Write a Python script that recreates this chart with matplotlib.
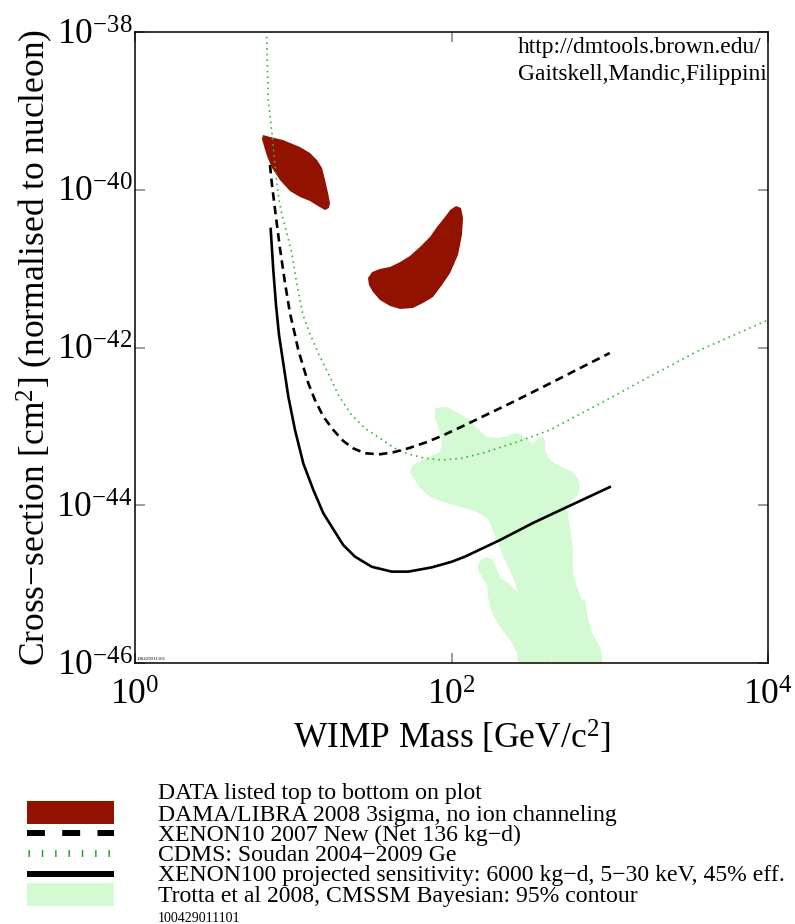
import numpy as np
import matplotlib.pyplot as plt
from matplotlib.lines import Line2D
from matplotlib.patches import Rectangle
from matplotlib.ticker import NullLocator

plt.rcParams['font.family'] = ['Liberation Serif', 'DejaVu Serif']
plt.rcParams['mathtext.fontset'] = 'custom'
plt.rcParams['mathtext.rm'] = 'Liberation Serif'
plt.rcParams['mathtext.it'] = 'Liberation Serif:italic'
plt.rcParams['mathtext.bf'] = 'Liberation Serif:bold'

# -----------------------------------------------------------------------------
# limit curves and regions: WIMP mass in GeV/c^2, cross-section in cm^2
# -----------------------------------------------------------------------------
# DAMA/LIBRA 2008 3sigma, low mass island
dama_lo_mass = [6.44, 7.13, 8.61, 11.04, 12.76, 14.13, 15.2, 15.89, 16.6, 17.06,
                16.8, 15.89, 14.32, 12.76, 11.04, 9.53, 8.24, 7.34, 6.82, 6.53, 6.34]
dama_lo_sigma = [4.94e-40, 4.67e-40, 4.27e-40, 3.48e-40, 2.92e-40, 2.38e-40, 1.89e-40,
                 1.33e-40, 9.1e-41, 6.79e-41, 5.87e-41, 5.53e-41, 6.22e-41, 7.2e-41,
                 8.09e-41, 9.64e-41, 1.33e-40, 1.89e-40, 2.68e-40, 3.59e-40, 4.40e-40]

# DAMA/LIBRA 2008 3sigma, high mass island
dama_hi_mass = [29.65, 31.5, 35.3, 40.9, 47.3, 54.7, 63.2, 73.1, 80.9, 91.0, 98.0,
                106.7, 114.8, 118.3, 116.4, 109.9, 98.0, 87.1, 76.4, 66.1, 57.1,
                47.3, 40.9, 35.3, 31.9, 30.1]
dama_hi_sigma = [7.6e-42, 9.06e-42, 9.89e-42, 1.05e-41, 1.21e-41, 1.45e-41, 1.88e-41,
                 2.52e-41, 3.37e-41, 4.52e-41, 5.53e-41, 6.22e-41, 5.87e-41, 4.39e-41,
                 2.67e-41, 1.49e-41, 8.81e-42, 6.2e-42, 4.37e-42, 3.67e-42, 3.17e-42,
                 3.08e-42, 3.36e-42, 4.0e-42, 5.06e-42, 6.2e-42]

# XENON10 2007 (Net 136 kg-d)
xe10_mass = [7.13, 7.34, 7.61, 7.89, 8.24, 8.87, 9.53, 10.26, 10.76, 11.57, 12.45,
             13.71, 15.49, 17.91, 20.70, 23.93, 28.38, 35.32, 42.85, 53.33, 68.08,
             86.70, 115.9, 244.9, 437.5, 1000.0]
xe10_sigma = [2.06e-40, 1.15e-40, 6.41e-41, 3.57e-41, 1.82e-41, 6.58e-42, 2.74e-42,
              1.44e-42, 9.29e-43, 5.71e-43, 3.52e-43, 2.16e-43, 1.33e-43, 9.0e-44,
              6.53e-44, 5.27e-44, 4.56e-44, 4.43e-44, 4.69e-44, 5.27e-44, 6.21e-44,
              7.55e-44, 9.91e-44, 2.04e-43, 3.66e-43, 8.51e-43]

# CDMS Soudan 2004-2009 Ge
cdms_mass = [6.79, 6.95, 7.20, 7.42, 7.61, 7.84, 8.13, 8.49, 8.87, 9.27, 9.78, 10.26,
             10.71, 11.53, 12.76, 14.39, 16.65, 19.27, 23.39, 28.38, 35.32, 43.95,
             53.33, 68.08, 86.70, 115.9, 158.0, 259.4, 418.8, 905.7, 1718.0, 3715.0,
             10000.0]
cdms_sigma = [8.72e-39, 1.37e-39, 7.22e-40, 4.27e-40, 2.38e-40, 1.33e-40, 7.41e-41,
              4.79e-41, 3.47e-41, 2.45e-41, 1.58e-41, 8.81e-42, 5.36e-42, 2.58e-42,
              1.48e-42, 8.43e-43, 4.71e-43, 2.50e-43, 1.39e-43, 9.46e-44, 7.06e-44,
              5.27e-44, 4.47e-44, 3.94e-44, 3.75e-44, 3.94e-44, 4.59e-44, 6.34e-44,
              9.0e-44, 2.04e-43, 4.10e-43, 9.29e-43, 2.23e-42]

# XENON100 projected sensitivity
xe100_mass = [7.20, 7.48, 7.78, 8.13, 8.65, 9.31, 10.26, 11.57, 13.40, 15.49, 17.50,
              20.70, 24.55, 31.33, 41.88, 53.33, 74.99, 100.2, 121.6, 202.5, 327.3,
              537.0, 1000.0]
xe100_sigma = [3.18e-41, 9.6e-42, 3.46e-42, 1.44e-42, 6.31e-43, 2.38e-43, 9.0e-44,
               3.40e-44, 1.56e-44, 7.91e-45, 5.35e-45, 3.13e-45, 2.23e-45, 1.66e-45,
               1.44e-45, 1.44e-45, 1.63e-45, 1.92e-45, 2.23e-45, 3.62e-45, 5.96e-45,
               9.5e-45, 1.70e-44]

# Trotta et al 2008, CMSSM Bayesian 95% contour
trotta_mass = [78.7, 93.7, 109.9, 125.3, 134.8, 144.9, 167.5, 202.5, 251.8, 279.3,
               304.1, 327.3, 346.7, 373.3, 389.9, 389.9, 407.4, 437.5, 507.0, 586.1,
               629.5, 648.6, 629.5, 576.8, 537.0, 561.0, 586.1, 586.1, 620.9, 668.3,
               698.2, 717.8, 772.7, 867.0, 905.7, 437.5, 431.5, 418.8, 263.0, 259.4,
               234.4, 202.5, 180.3, 170.2, 167.5, 156.0, 144.9, 151.4, 167.5, 182.9,
               194.0, 202.5, 224.4, 244.9, 263.0, 251.8, 227.5, 208.4, 194.0, 180.3,
               167.5, 144.9, 113.2, 88.3, 73.1, 63.2, 58.7, 54.7, 57.1, 70.0, 84.6,
               87.1, 84.6, 78.7]
trotta_sigma = [1.71e-43, 1.76e-43, 1.48e-43, 1.28e-43, 1.14e-43, 9.53e-44, 7.33e-44,
                7.13e-44, 8.24e-44, 7.78e-44, 6.71e-44, 6.15e-44, 6.71e-44, 7.55e-44,
                6.71e-44, 5.01e-44, 4.09e-44, 3.53e-44, 2.97e-44, 2.64e-44, 2.21e-44,
                1.70e-44, 1.35e-44, 1.17e-44, 8.7e-45, 5.30e-45, 2.71e-45, 1.38e-45,
                9.19e-46, 6.29e-46, 6.29e-46, 4.31e-46, 2.40e-46, 1.60e-46, 1.0e-46,
                1.0e-46, 1.09e-46, 1.0e-46, 1.0e-46, 1.34e-46, 1.96e-46, 2.86e-46,
                4.31e-46, 6.87e-46, 9.74e-46, 1.23e-45, 1.60e-45, 2.02e-45, 2.21e-45,
                2.02e-45, 1.51e-45, 1.23e-45, 1.06e-45, 8.93e-46, 7.94e-46, 1.06e-45,
                1.65e-45, 2.48e-45, 3.62e-45, 5.15e-45, 6.89e-45, 8.2e-45, 9.5e-45,
                1.10e-44, 1.27e-44, 1.66e-44, 2.09e-44, 2.64e-44, 3.24e-44, 3.97e-44,
                4.73e-44, 6.15e-44, 8.24e-44, 1.28e-43]

xticks = [1, 1e2, 1e4]
xtick_labels = [r'$10^{0}$', r'$10^{2}$', r'$10^{4}$']
yticks = [1e-46, 1e-44, 1e-42, 1e-40, 1e-38]
ytick_labels = [r'$10^{-46}$', r'$10^{-44}$', r'$10^{-42}$', r'$10^{-40}$', r'$10^{-38}$']

legend_labels = ['DAMA/LIBRA 2008 3sigma, no ion channeling',
                 'XENON10 2007 New (Net 136 kg\u2212d)',
                 'CDMS: Soudan 2004\u22122009 Ge',
                 'XENON100 projected sensitivity: 6000 kg\u2212d, 5\u221230 keV, 45% eff.',
                 'Trotta et al 2008, CMSSM Bayesian: 95% contour']

dama_col = '#921200'
trotta_col = '#d3fad3'
cdms_col = '#3cb43c'

# -----------------------------------------------------------------------------
W, H = 795, 924
fig = plt.figure(figsize=(W / 100, H / 100), dpi=100)
ax = fig.add_axes([135 / W, 1 - 663 / H, 633 / W, 631 / H])

ax.fill(trotta_mass, trotta_sigma, color=trotta_col, lw=0, zorder=1)
ax.fill(dama_lo_mass, dama_lo_sigma, color=dama_col, lw=0, zorder=2)
ax.fill(dama_hi_mass, dama_hi_sigma, color=dama_col, lw=0, zorder=2)
ax.plot(cdms_mass, cdms_sigma, color=cdms_col, lw=1.2, dashes=(1.0, 2.4), zorder=3)
ax.plot(xe10_mass, xe10_sigma, color='k', lw=1.9, dashes=(3.2, 2.0), zorder=4)
ax.plot(xe100_mass, xe100_sigma, color='k', lw=1.9, zorder=5)

ax.set_xscale('log')
ax.set_yscale('log')
ax.set_xlim(1, 1e4)
ax.set_ylim(1e-46, 1e-38)
ax.set_xticks(xticks, xtick_labels)
ax.set_yticks(yticks, ytick_labels)
ax.xaxis.set_minor_locator(NullLocator())
ax.yaxis.set_minor_locator(NullLocator())
ax.tick_params(direction='in', length=7, width=1.1, color='grey',
               top=True, right=True, labelsize=25.5)
ax.tick_params(axis='y', pad=2)
ax.tick_params(axis='x', pad=12)
for s in ax.spines.values():
    s.set_linewidth(1.1)

ax.set_xlabel('WIMP Mass [GeV/c$^{2}$]', fontsize=25.5)
ax.set_ylabel('Cross\u2212section [cm$^{2}$] (normalised to nucleon)', fontsize=25.5)
ax.xaxis.set_label_coords(0.5, -0.088)
ax.yaxis.set_label_coords(-0.127, 0.5)

ax.text(518 / W, 1 - 53 / H, 'http://dmtools.brown.edu/', transform=fig.transFigure,
        fontsize=16.9, va='baseline', clip_on=True)
ax.text(518 / W, 1 - 80 / H, 'Gaitskell,Mandic,Filippini', transform=fig.transFigure,
        fontsize=16.9, va='baseline', clip_on=True)
ax.text(0.003, 0.003, '100429011101', transform=ax.transAxes, fontsize=3.5,
        va='bottom', ha='left')

# ---------------- legend block under the plot (pixel coordinates) -------------
lax = fig.add_axes([0, 0, 1, 1])
lax.set_xlim(0, W)
lax.set_ylim(H, 0)
lax.axis('off')

lax.add_patch(Rectangle((27, 800.5), 87, 23, color=dama_col, lw=0))
lax.add_line(Line2D([27, 114], [832.5, 832.5], color='k', lw=4.3,
                    dashes=(3.0, 2.9), solid_capstyle='butt', dash_capstyle='butt'))
lax.add_line(Line2D([27.8, 114], [852.5, 852.5], color='#1a9a1a', lw=5.0,
                    dashes=(0.2, 1.72), dash_capstyle='butt'))
lax.add_line(Line2D([27, 114], [873.7, 873.7], color='k', lw=4.3, solid_capstyle='butt'))
lax.add_patch(Rectangle((27, 883), 87, 23, color=trotta_col, lw=0))

text_x = 158
fig_font = 17.1
lax.text(text_x, 799, 'DATA listed top to bottom on plot', fontsize=fig_font, va='baseline')
for i, lab in enumerate(legend_labels):
    lax.text(text_x, 820.5 + 20.3 * i, lab, fontsize=fig_font, va='baseline')
lax.text(text_x, 922, '100429011101', fontsize=10, va='baseline')

fig.savefig('out.png', dpi=100)
